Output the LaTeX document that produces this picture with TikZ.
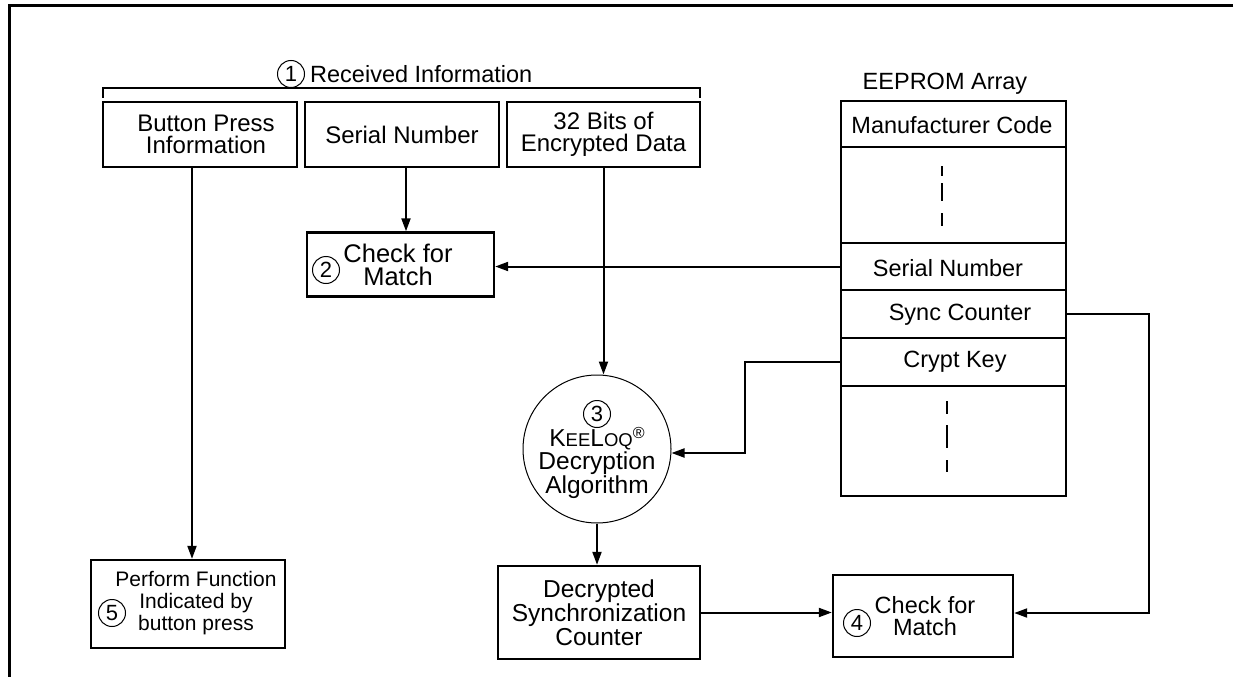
\documentclass[tikz,border=0pt]{standalone}
\usepackage{fontspec}
\setmainfont{Liberation Sans}
\usetikzlibrary{arrows.meta}
\begin{document}
\begin{tikzpicture}[x=1pt,y=-1pt,
  every node/.style={font=\fontsize{23.5}{22}\selectfont, align=center, inner sep=0pt},
  boxline/.style={draw, line width=2.4pt},
  conn/.style={line width=2pt},
  arr/.style={conn,-{Triangle[length=13pt,width=9pt]}},
  dashmark/.style={line width=2pt},
  num/.style={draw, circle, line width=1pt, minimum size=27pt, inner sep=0pt, font=\fontsize{22}{22}\selectfont},
  rowbox/.style={draw, line width=2.4pt, minimum width=225pt},
  bigtext/.style={font=\fontsize{24.5}{24}\selectfont},
]
\useasboundingbox (0,0) rectangle (1243,677);
% frame
\draw[line width=3pt] (1233,6) -- (9,6) -- (9,677);

% received information
\node[num] (n1) at (291,74) {1};
\node[anchor=west] (recv) at (310,74) {Received Information};
\draw[conn] (103,98) -- (103,88) -- (700,88) -- (700,98);

% top row boxes
\node[boxline, minimum width=194pt, minimum height=65pt] (bp) at (200,134.5) {};
\node[font=\fontsize{24}{22}\selectfont] (bpt) at (206,134.5) {Button Press\\Information};
\node[boxline, minimum width=194pt, minimum height=65pt, font=\fontsize{24}{22}\selectfont] (sn) at (402,134.5) {Serial Number};
\node[boxline, minimum width=193pt, minimum height=65pt, font=\fontsize{24}{22}\selectfont] (ed) at (603.5,134.5) {32 Bits of\\Encrypted Data};

% EEPROM array
\node (eelabel) at (945,84) {EEPROM Array};
\node[rowbox, minimum height=46pt] (mc) at (953.5,124) {};
\node[rowbox, minimum height=96pt] (d1) at (953.5,195) {};
\node[rowbox, minimum height=47pt] (esn) at (953.5,266.5) {};
\node[rowbox, minimum height=48pt] (sc) at (953.5,314) {};
\node[rowbox, minimum height=48pt] (ck) at (953.5,362) {};
\node[rowbox, minimum height=110pt] (d2) at (953.5,441) {};
\node (mct) at (952,125) {Manufacturer Code};
\node (esnt) at (948,268) {Serial Number};
\node (sct) at (960,315) {Sync Counter};
\node (ckt) at (955,362) {Crypt Key};
\draw[dashmark] (942,166) -- (942,176);
\draw[dashmark] (942,183) -- (942,201);
\draw[dashmark] (942,213) -- (942,226);
\draw[dashmark] (947,401) -- (947,414);
\draw[dashmark] (947,425) -- (947,448);
\draw[dashmark] (947,460) -- (947,472);

% check for match 2
\node[boxline, minimum width=187pt, minimum height=64pt] (chk2) at (400.5,264.5) {};
\node[font=\fontsize{25.5}{23}\selectfont] (chk2t) at (398,265) {Check for\\Match};
\node[num] (n2) at (326,270) {2};

% decryption algorithm
\node[draw, circle, line width=1pt, minimum size=148pt] (alg) at (597,449) {};
\node[num] (n3) at (597,414) {3};
\node[bigtext] (kl) at (597,439) {K{\fontsize{18.5}{18}\selectfont EE}L{\fontsize{18.5}{18}\selectfont OQ}\raisebox{8pt}{\fontsize{16}{16}\selectfont ®}};
\node[bigtext] (dect) at (597,463) {Decryption};
\node[bigtext] (algt) at (597,487) {Algorithm};

% decrypted sync counter
\node[boxline, minimum width=202pt, minimum height=93pt, bigtext] (dsc) at (599,612.5) {Decrypted\\Synchronization\\Counter};

% check for match 4
\node[boxline, minimum width=180pt, minimum height=82pt] (chk4) at (923,616) {};
\node (chk4t) at (925,616) {Check for\\Match};
\node[num] (n4) at (857,623) {4};

% perform function 5
\node[boxline, minimum width=194pt, minimum height=88pt] (pf) at (188,604) {};
\node[font=\fontsize{21}{22}\selectfont] (pft) at (196,603) {Perform Function\\Indicated by\\button press};
\node[num] (n5) at (112,613) {5};

% connectors
\draw[arr] ([xshift=-8pt]bp.south) -- ([xshift=-8pt]bp.south |- pf.north);
\draw[arr] ([xshift=4pt]sn.south) -- ([xshift=4pt]sn.south |- chk2.north);
\draw[arr] (esn.west) -- (esn.west -| chk2.east);
\draw[arr] (ed.south) -- (ed.south |- alg.north);
\draw[arr] (ck.west) -- (745,362) |- ([yshift=-4pt]alg.east);
\draw[arr] (alg.south) -- (alg.south |- dsc.north);
\draw[arr] (sc.east) -- (1149,314) |- ([yshift=3pt]chk4.east);
\draw[arr] (dsc.east) -- (dsc.east -| chk4.west);
\end{tikzpicture}
\end{document}
